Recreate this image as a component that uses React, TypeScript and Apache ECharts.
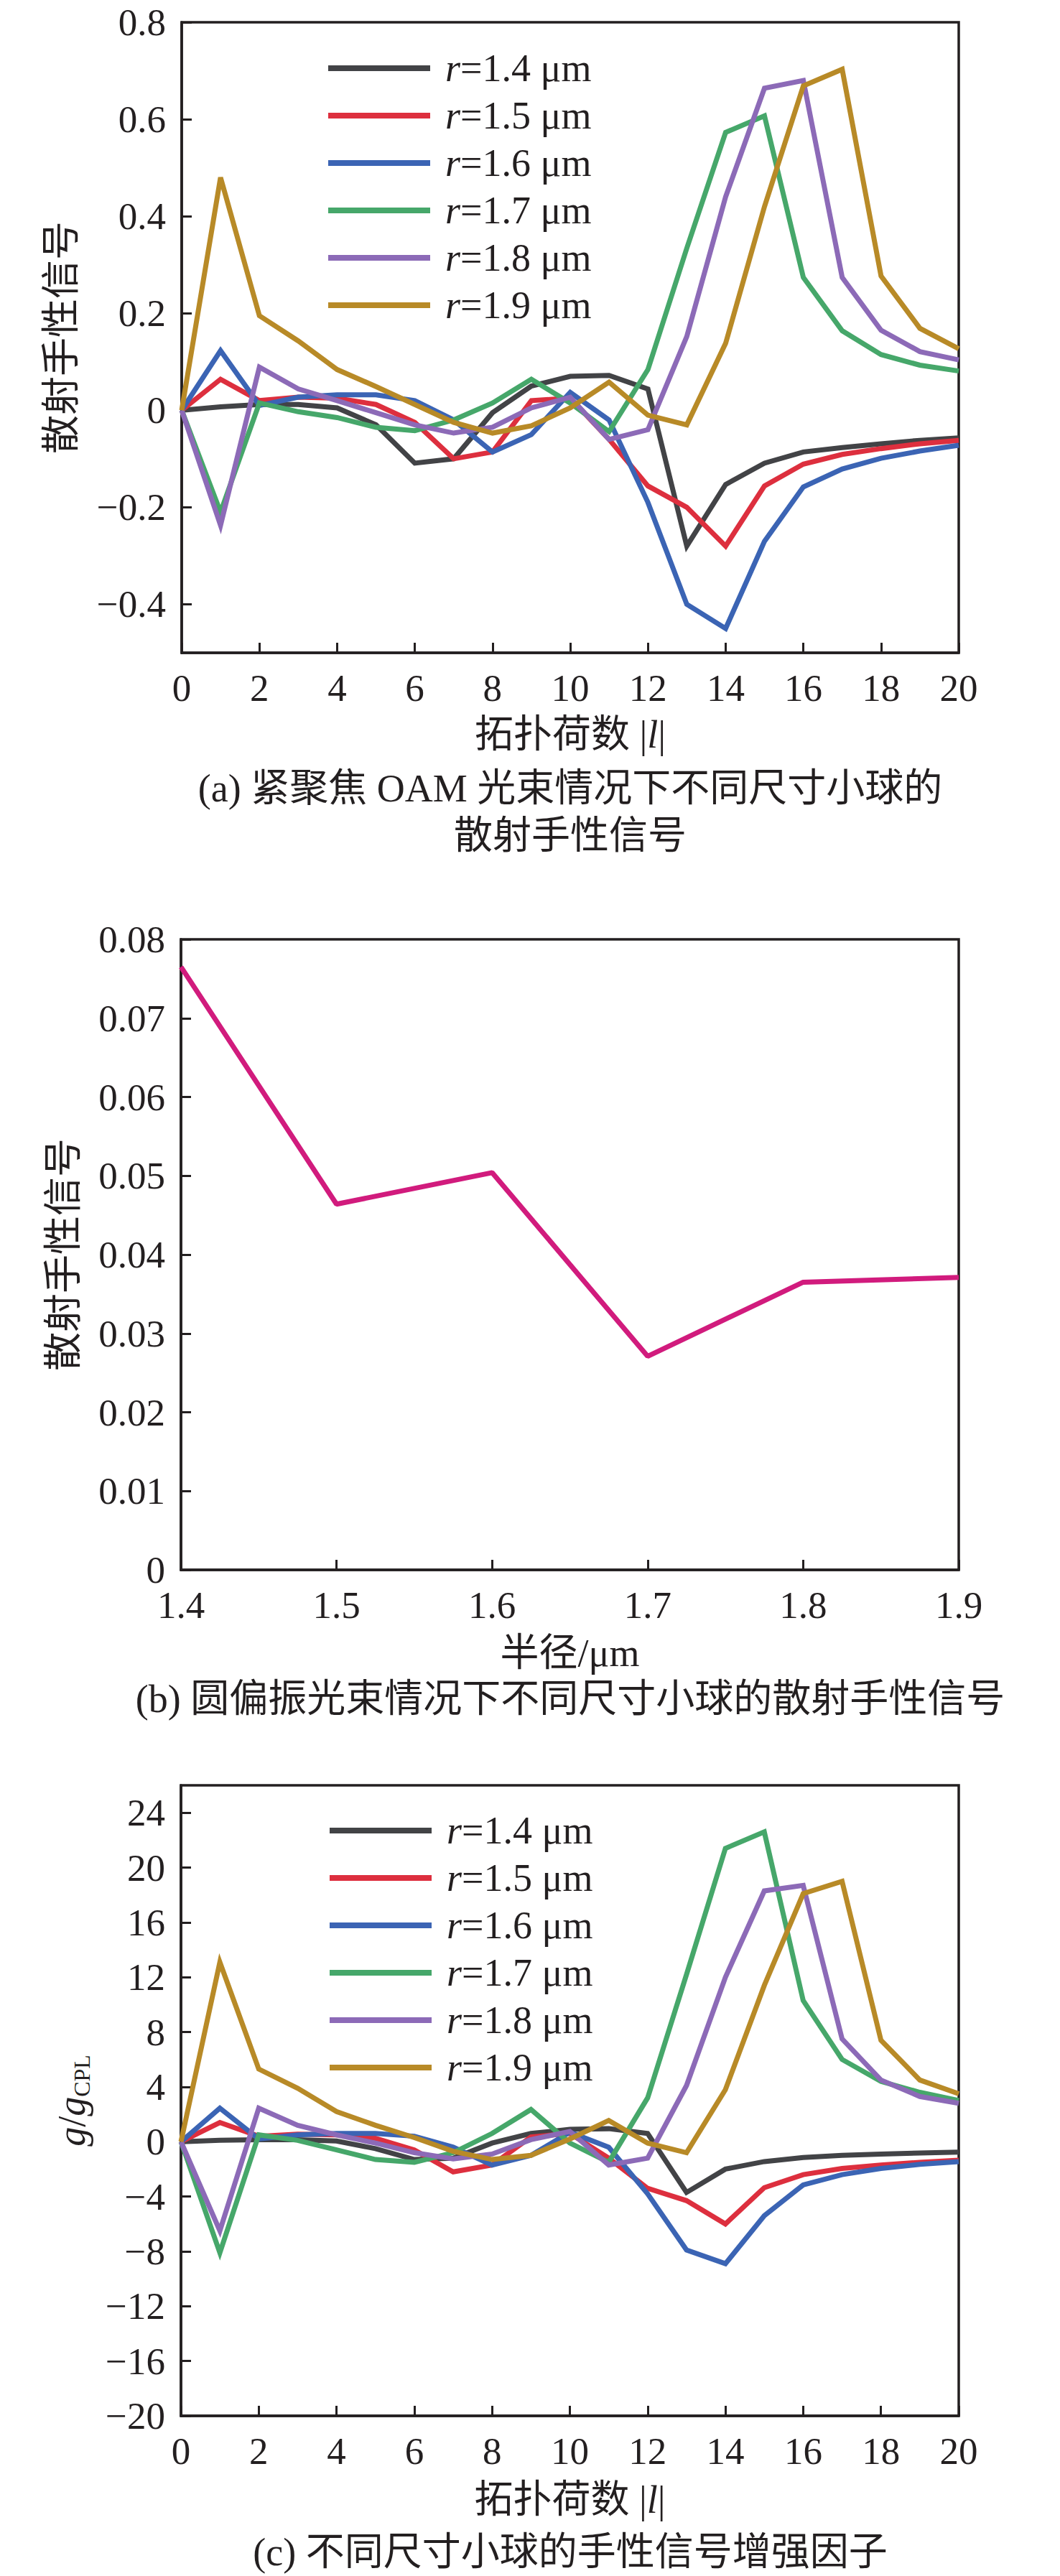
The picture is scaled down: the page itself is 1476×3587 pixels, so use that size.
import React, { useEffect, useRef } from "react";
import * as echarts from "echarts";

const FONT = '"Liberation Serif", "Times New Roman", "Noto Sans CJK SC", serif';
const INK = "#231f20";

const L = [0, 1, 2, 3, 4, 5, 6, 7, 8, 9, 10, 11, 12, 13, 14, 15, 16, 17, 18, 19, 20];
const NAMES = ["1.4", "1.5", "1.6", "1.7", "1.8", "1.9"];
const COLORS = ["#424346", "#dd2f3e", "#3b64b4", "#46a76a", "#8c6ab7", "#b88a27"];

// (a) scattering chirality signal, tightly focused OAM beam
const A14 = [0, 0.007, 0.012, 0.012, 0.005, -0.03, -0.109, -0.1, -0.005, 0.05, 0.07, 0.072, 0.044, -0.28, -0.153, -0.109, -0.086, -0.077, -0.069, -0.062, -0.057];
const A15 = [0, 0.064, 0.02, 0.027, 0.025, 0.012, -0.025, -0.1, -0.086, 0.02, 0.025, -0.06, -0.156, -0.2, -0.28, -0.156, -0.111, -0.091, -0.079, -0.069, -0.062];
const A16 = [0, 0.123, 0.01, 0.027, 0.032, 0.032, 0.02, -0.02, -0.086, -0.05, 0.037, -0.02, -0.19, -0.4, -0.45, -0.27, -0.158, -0.121, -0.099, -0.084, -0.072];
const A17 = [0, -0.21, 0.015, -0.003, -0.015, -0.035, -0.042, -0.02, 0.015, 0.064, 0.015, -0.044, 0.084, 0.334, 0.573, 0.607, 0.274, 0.164, 0.115, 0.093, 0.081];
const A18 = [0, -0.237, 0.089, 0.044, 0.02, -0.005, -0.03, -0.047, -0.035, 0.005, 0.027, -0.06, -0.04, 0.152, 0.44, 0.664, 0.68, 0.274, 0.165, 0.121, 0.104];
const A19 = [0, 0.48, 0.195, 0.143, 0.084, 0.049, 0.012, -0.025, -0.047, -0.032, 0.005, 0.058, -0.01, -0.03, 0.138, 0.42, 0.669, 0.703, 0.277, 0.169, 0.127];

// (b) circularly polarized beam
const RADIUS = [1.4, 1.5, 1.6, 1.7, 1.8, 1.9];
const GCPL = [0.0765, 0.0464, 0.0504, 0.0271, 0.0365, 0.0371];

// (c) enhancement factor g/gCPL
const C14 = [0, 0.1, 0.15, 0.15, 0.05, -0.5, -1.3, -1.2, -0.1, 0.6, 0.9, 0.95, 0.6, -3.7, -2.0, -1.45, -1.15, -1.0, -0.9, -0.82, -0.76];
const C15 = [0, 1.4, 0.4, 0.55, 0.5, 0.25, -0.6, -2.2, -1.7, 0.35, 0.6, -1.2, -3.4, -4.3, -6.0, -3.35, -2.4, -1.95, -1.7, -1.5, -1.35];
const C16 = [0, 2.45, 0.2, 0.5, 0.6, 0.6, 0.4, -0.4, -1.7, -1.0, 0.7, -0.4, -3.8, -7.9, -8.9, -5.4, -3.15, -2.4, -1.95, -1.65, -1.45];
const C17 = [0, -8.1, 0.5, 0.1, -0.6, -1.3, -1.5, -0.8, 0.6, 2.35, -0.1, -1.5, 3.2, 12.2, 21.4, 22.6, 10.3, 6.0, 4.4, 3.6, 3.0];
const C18 = [0, -6.5, 2.45, 1.2, 0.5, -0.1, -0.8, -1.25, -0.9, 0.15, 0.75, -1.7, -1.2, 4.1, 12.0, 18.3, 18.7, 7.5, 4.5, 3.3, 2.8];
const C19 = [0, 13.1, 5.3, 3.9, 2.2, 1.2, 0.3, -0.7, -1.3, -1.0, 0.2, 1.55, -0.1, -0.8, 3.8, 11.4, 18.1, 19.0, 7.4, 4.5, 3.5];

const A_TICKS = [-0.4, -0.2, 0, 0.2, 0.4, 0.6, 0.8];
const C_TICKS = [-20, -16, -12, -8, -4, 0, 4, 8, 12, 16, 20, 24];

const A_SETS = [A14, A15, A16, A17, A18, A19];
const C_SETS = [C14, C15, C16, C17, C18, C19];

const minus = (s: string) => s.replace("-", "\u2212");

function axisBase(gridIndex: number) {
  return {
    gridIndex,
    type: "value",
    axisLine: { show: true, onZero: false, lineStyle: { color: INK, width: 3.5 } },
    axisTick: { show: true, inside: true, length: 14, lineStyle: { color: INK, width: 3 } },
    splitLine: { show: false },
    axisLabel: { color: INK, fontFamily: FONT, fontSize: 53, margin: 22 },
  };
}

function legendFor(top: number, left: number) {
  return {
    data: NAMES.map((n) => ({ name: "r=" + n })),
    orient: "vertical",
    left,
    top,
    padding: 0,
    icon: "rect",
    itemWidth: 142,
    itemHeight: 8,
    itemGap: 10,
    selectedMode: false,
    formatter: (name: string) => "{i|r}{n|" + name.slice(1) + " \u03bcm}",
    textStyle: {
      color: INK,
      fontFamily: FONT,
      fontSize: 54,
      lineHeight: 56,
      padding: [0, 0, 0, 16],
      rich: {
        i: { fontStyle: "italic", fontFamily: FONT, fontSize: 54, color: INK, lineHeight: 56 },
        n: { fontFamily: FONT, fontSize: 54, color: INK, lineHeight: 56 },
      },
    },
  };
}

const nameStyle = {
  color: INK,
  fontFamily: FONT,
  fontSize: 54,
  verticalAlign: "middle",
  rich: {
    i: { fontStyle: "italic", fontFamily: FONT, fontSize: 54, color: INK },
    n: { fontFamily: FONT, fontSize: 54, color: INK },
  },
};

export default function App() {
  const ref = useRef<HTMLDivElement>(null);
  useEffect(() => {
    if (!ref.current) return;
    const chart = echarts.init(ref.current, null, { renderer: "svg" });
    const gridBase = { show: true, borderColor: INK, borderWidth: 3.5, backgroundColor: "transparent", outerBoundsMode: "none" };

    const seriesA = A_SETS.map((arr, k) => ({
      type: "line",
      name: "r=" + NAMES[k],
      xAxisIndex: 0,
      yAxisIndex: 0,
      symbol: "none",
      lineStyle: { width: 7, color: COLORS[k], join: "miter" },
      itemStyle: { color: COLORS[k] },
      data: L.map((l, i) => [l, arr[i]]),
    }));
    const seriesC = C_SETS.map((arr, k) => ({
      type: "line",
      name: "r=" + NAMES[k],
      xAxisIndex: 2,
      yAxisIndex: 2,
      symbol: "none",
      lineStyle: { width: 7, color: COLORS[k], join: "miter" },
      itemStyle: { color: COLORS[k] },
      data: L.map((l, i) => [l, arr[i]]),
    }));
    const seriesB = {
      type: "line",
      name: "gcpl",
      xAxisIndex: 1,
      yAxisIndex: 1,
      symbol: "none",
      lineStyle: { width: 7, color: "#d11b7d" },
      itemStyle: { color: "#d11b7d" },
      data: RADIUS.map((r, i) => [r, GCPL[i]]),
    };

    const b = axisBase(0);
    const option: any = {
      animation: false,
      backgroundColor: "#ffffff",
      grid: [
        { ...gridBase, left: 253, top: 31, width: 1082, height: 878 },
        { ...gridBase, left: 252, top: 1308, width: 1083, height: 878 },
        { ...gridBase, left: 252, top: 2486, width: 1083, height: 878 },
      ],
      legend: [legendFor(67, 457), legendFor(2521, 459)],
      xAxis: [
        {
          ...axisBase(0),
          min: 0,
          max: 20,
          interval: 2,
          name: "{n|拓扑荷数 |}{i|l}{n||}",
          nameLocation: "middle",
          nameGap: 114,
          nameTextStyle: nameStyle,
          axisLabel: { ...b.axisLabel, formatter: (v: number) => String(v) },
        },
        {
          ...axisBase(1),
          min: 1.4,
          max: 1.9,
          interval: 0.1,
          name: "{n|半径/\u03bcm}",
          nameLocation: "middle",
          nameGap: 116,
          nameTextStyle: nameStyle,
          axisLabel: { ...b.axisLabel, formatter: (v: number) => v.toFixed(1) },
        },
        {
          ...axisBase(2),
          min: 0,
          max: 20,
          interval: 2,
          name: "{n|拓扑荷数 |}{i|l}{n||}",
          nameLocation: "middle",
          nameGap: 117,
          nameTextStyle: nameStyle,
          axisLabel: { ...b.axisLabel, formatter: (v: number) => String(v) },
        },
      ],
      yAxis: [
        {
          ...axisBase(0),
          min: -0.5,
          max: 0.8,
          name: "{n|散射手性信号}",
          nameLocation: "middle",
          nameGap: 167,
          nameTextStyle: nameStyle,
          axisTick: { ...b.axisTick, customValues: A_TICKS },
          axisLabel: {
            ...b.axisLabel,
            customValues: A_TICKS,
            formatter: (v: number) => minus(v === 0 ? "0" : v.toFixed(1)),
          },
        },
        {
          ...axisBase(1),
          min: 0,
          max: 0.08,
          interval: 0.01,
          name: "{n|散射手性信号}",
          nameLocation: "middle",
          nameGap: 163,
          nameTextStyle: nameStyle,
          axisLabel: { ...b.axisLabel, formatter: (v: number) => (Math.abs(v) < 1e-9 ? "0" : v.toFixed(2)) },
        },
        {
          ...axisBase(2),
          min: -20,
          max: 26,
          name: "{i|g}{n|/}{i|g}{s|CPL}",
          nameLocation: "middle",
          nameGap: 152,
          nameTextStyle: {
            ...nameStyle,
            rich: {
              i: { fontStyle: "italic", fontFamily: FONT, fontSize: 54, color: INK, lineHeight: 64, verticalAlign: "middle" },
              n: { fontFamily: FONT, fontSize: 54, color: INK, lineHeight: 64, verticalAlign: "middle" },
              s: { fontFamily: FONT, fontSize: 32, color: INK, lineHeight: 64, verticalAlign: "bottom", padding: [0, 0, 2, 0] },
            },
          },
          axisTick: { ...b.axisTick, customValues: C_TICKS },
          axisLabel: {
            ...b.axisLabel,
            customValues: C_TICKS,
            formatter: (v: number) => minus(String(Math.round(v))),
          },
        },
      ],
      graphic: [
        { type: "text", x: 794, y: 1098, style: { text: "(a) 紧聚焦 OAM 光束情况下不同尺寸小球的", fontFamily: FONT, fontSize: 54, fill: INK, align: "center", verticalAlign: "middle" } },
        { type: "text", x: 794, y: 1164, style: { text: "散射手性信号", fontFamily: FONT, fontSize: 54, fill: INK, align: "center", verticalAlign: "middle" } },
        { type: "text", x: 794, y: 2366, style: { text: "(b) 圆偏振光束情况下不同尺寸小球的散射手性信号", fontFamily: FONT, fontSize: 54, fill: INK, align: "center", verticalAlign: "middle" } },
        { type: "text", x: 794, y: 3554, style: { text: "(c) 不同尺寸小球的手性信号增强因子", fontFamily: FONT, fontSize: 54, fill: INK, align: "center", verticalAlign: "middle" } },
      ],
      series: [...seriesA, seriesB, ...seriesC],
    };
    chart.setOption(option);
    return () => chart.dispose();
  }, []);
  return (
    <div
      ref={ref}
      style={{ position: "absolute", left: 0, top: 0, width: 1476, height: 3587, background: "#fff" }}
    />
  );
}
